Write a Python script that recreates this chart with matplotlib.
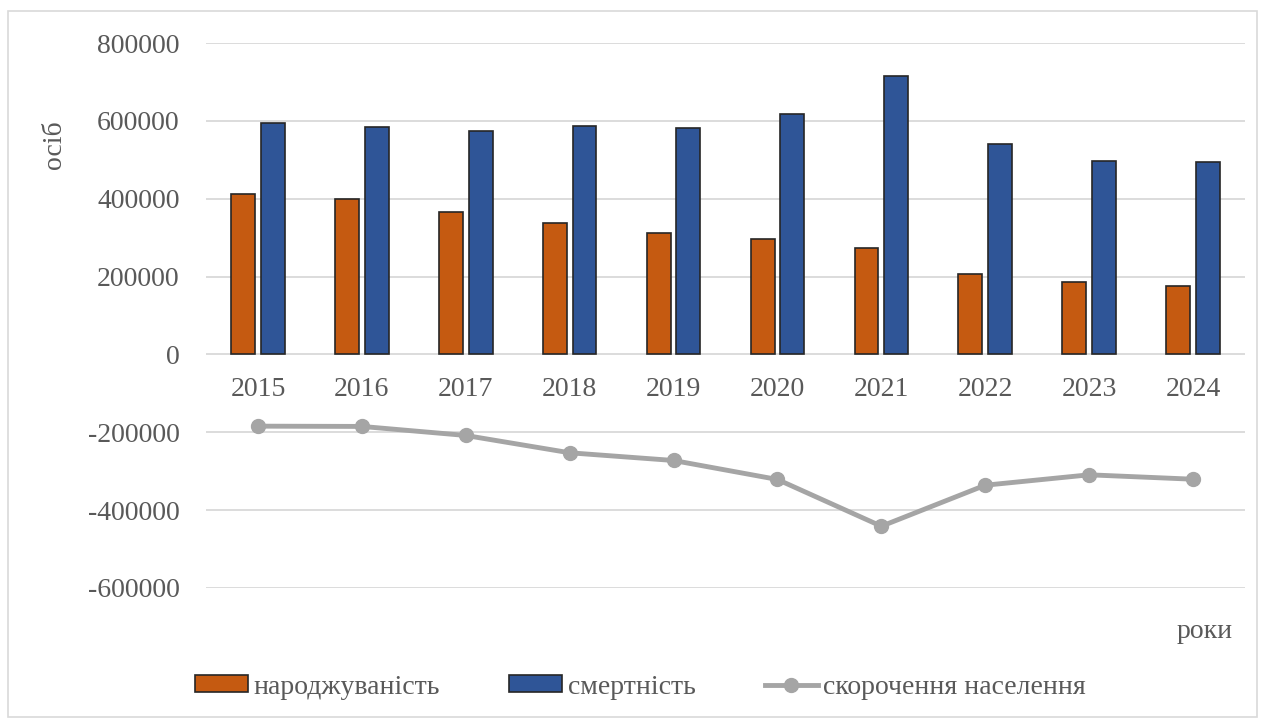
import matplotlib.pyplot as plt
import numpy as np
from matplotlib.patches import Rectangle

years = ["2015", "2016", "2017", "2018", "2019", "2020", "2021", "2022", "2023", "2024"]
births = [411500, 399700, 365300, 338100, 311400, 295300, 274000, 205400, 186600, 175400]
deaths = [594900, 583600, 573300, 587100, 581000, 617000, 714500, 541700, 496300, 493700]
decline = [-184300, -185000, -208200, -252700, -272500, -321300, -441400, -336000, -309300, -320600]

plt.rcParams['font.family'] = ['Liberation Serif', 'DejaVu Serif']

fig = plt.figure(figsize=(12.61, 7.18), dpi=100)
ax = fig.add_axes([0.1634, 0.1811, 0.8239, 0.7590])

x = np.arange(len(years))
w = 0.23
b1 = ax.bar(x - 0.143, births, w, color='#C55A11', edgecolor='#262626', linewidth=1.2,
            label='народжуваність', zorder=3)
b2 = ax.bar(x + 0.143, deaths, w, color='#2F5597', edgecolor='#262626', linewidth=1.2,
            label='смертність', zorder=3)
l1, = ax.plot(x, decline, color='#A5A5A5', lw=3.5, marker='o', markersize=10,
              label='скорочення населення', zorder=4)

ax.set_xlim(-0.5, len(years) - 0.5)
ax.set_ylim(-600000, 800000)
ax.set_yticks(np.arange(-600000, 800001, 200000))
ax.set_yticklabels([str(v) for v in np.arange(-600000, 800001, 200000)])
ax.set_xticks(x)
ax.set_xticklabels(years)
ax.grid(axis='y', color='#D9D9D9', lw=1.3, zorder=0)
ax.set_axisbelow(True)
for s in ax.spines.values():
    s.set_visible(False)
ax.spines['bottom'].set_position(('data', 0))
ax.tick_params(axis='y', length=0, pad=19, labelsize=20, labelcolor='#595959')
ax.tick_params(axis='x', length=0, pad=16, labelsize=20, labelcolor='#595959')

fig.text(54 / 1261, 1 - 145 / 718, 'осіб', rotation=90, ha='center', va='center',
         fontsize=20, color='#595959')
fig.text(1205 / 1261, 1 - 632 / 718, 'роки', ha='center', va='center',
         fontsize=20, color='#595959')

fig.legend([b1, b2, l1], ['народжуваність', 'смертність', 'скорочення населення'],
           loc='center', bbox_to_anchor=(0.508, 0.043), ncol=3, frameon=False,
           fontsize=20, handlelength=1.9, handleheight=0.55, handletextpad=0.2,
           columnspacing=2.5, labelcolor='#595959')

fig.patches.append(Rectangle((8 / 1261, 0.002), 1 - 12 / 1261, 1 - 12 / 718,
                             transform=fig.transFigure, fill=False,
                             edgecolor='#D9D9D9', lw=1.2))

plt.savefig("out.png")
